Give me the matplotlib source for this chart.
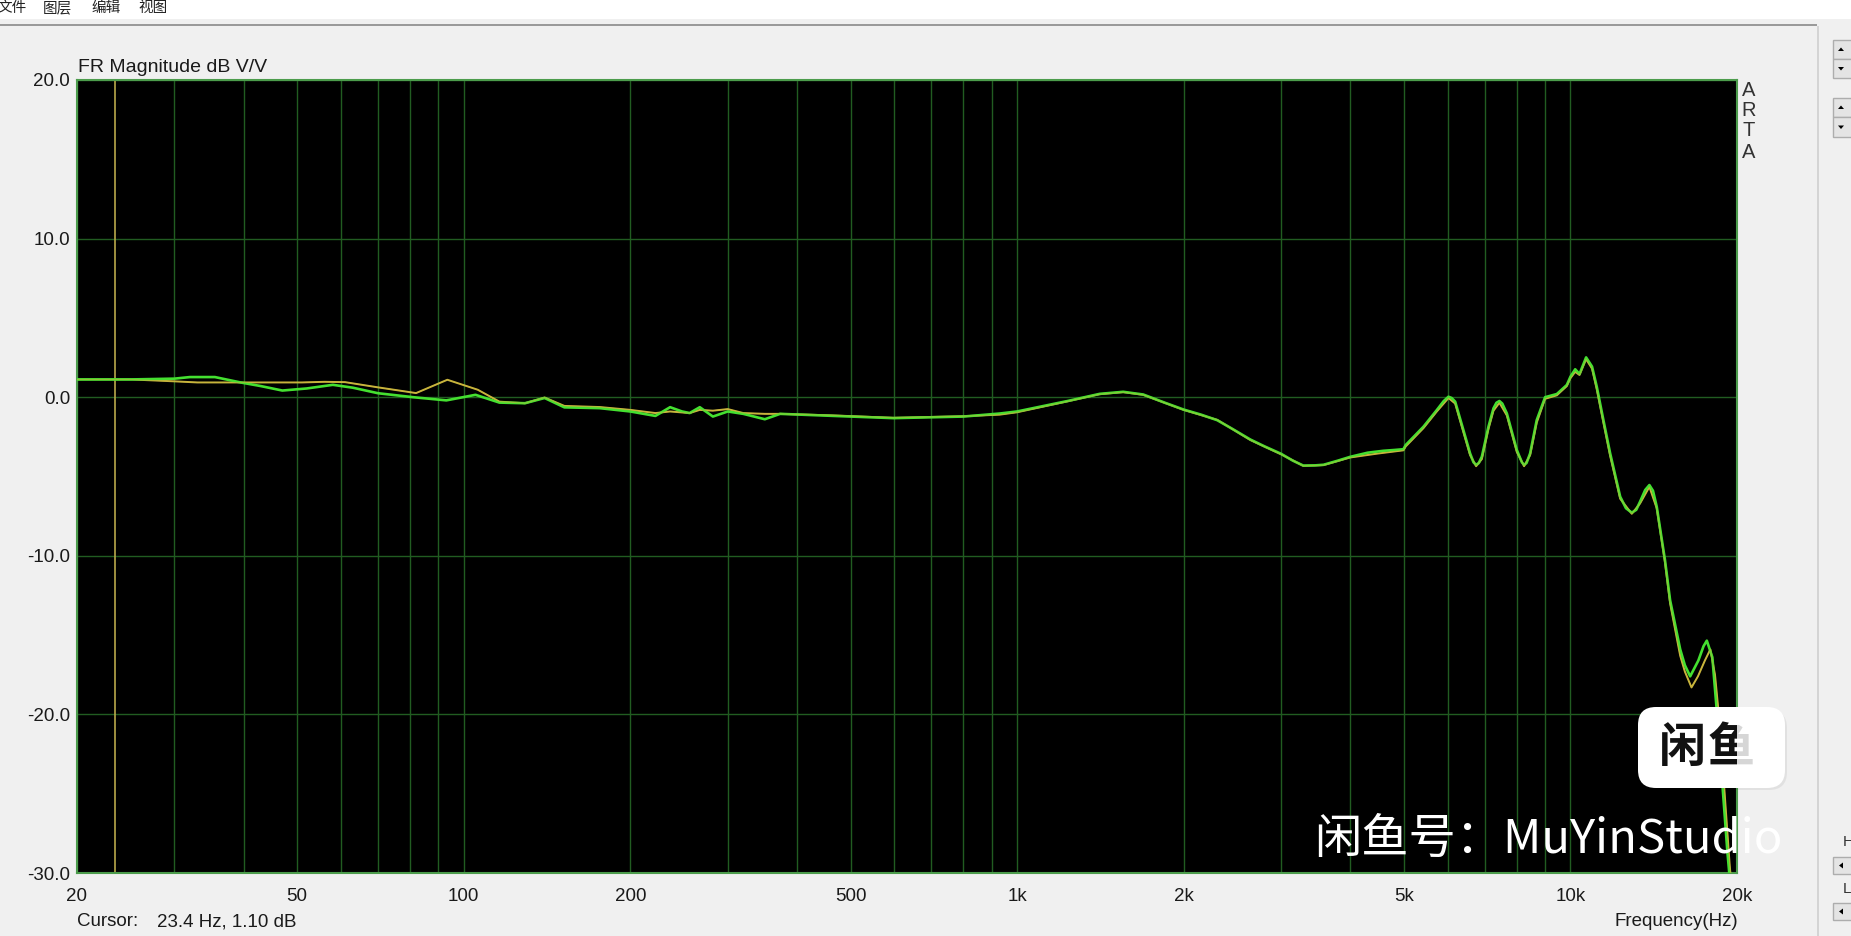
import matplotlib
matplotlib.use("Agg")
import matplotlib.pyplot as plt
from matplotlib.patches import Rectangle, Polygon, FancyBboxPatch
from matplotlib.transforms import IdentityTransform
from matplotlib.ticker import FixedLocator, FixedFormatter, FormatStrFormatter

plt.rcParams['font.family'] = ['Liberation Sans', 'Noto Sans CJK SC', 'DejaVu Sans']

# green trace (Hz, dB)
green_freq = [20, 25, 30, 32, 35.5, 39.5, 43, 47, 52, 58, 63, 70, 81, 93, 105, 116, 129, 140,
              152, 176, 200, 222, 236, 248, 256, 267, 282, 300, 320, 350, 373, 466, 598, 800,
              930, 1000, 1100, 1230, 1410, 1555, 1690, 1850, 2000, 2150, 2300, 2450, 2640,
              2800, 3000, 3150, 3290, 3450, 3580, 3800, 4000, 4300, 4590, 4800, 4990, 5040,
              5425, 5735, 5900, 6020, 6100, 6190, 6405, 6586, 6680, 6754, 6830, 6917, 7110,
              7260, 7350, 7441, 7530, 7675, 8000, 8170, 8246, 8330, 8456, 8692, 9000, 9450,
              9850, 10000, 10200, 10385, 10674, 10940, 11158, 11470, 11797, 12300, 12600,
              12910, 13150, 13360, 13650, 13890, 14100, 14320, 14820, 15140, 15790, 16100,
              16460, 17030, 17400, 17640, 18050, 18430, 18820, 19210, 19480, 19700]
green_db = [1.12, 1.12, 1.17, 1.27, 1.27, 0.93, 0.70, 0.42, 0.55, 0.78, 0.60, 0.25, 0.0, -0.2,
            0.15, -0.34, -0.38, -0.05, -0.64, -0.69, -0.9, -1.18, -0.63, -0.9, -1.0, -0.63,
            -1.22, -0.9, -1.05, -1.39, -1.05, -1.18, -1.32, -1.22, -1.03, -0.9, -0.6, -0.25,
            0.21, 0.34, 0.17, -0.35, -0.78, -1.1, -1.45, -2.0, -2.67, -3.1, -3.57, -4.0,
            -4.31, -4.3, -4.26, -4.0, -3.76, -3.5, -3.38, -3.33, -3.28, -3.01, -1.86, -0.81,
            -0.25, 0.03, -0.05, -0.28, -2.07, -3.54, -4.1, -4.27, -4.15, -3.75, -1.86, -0.70,
            -0.35, -0.24, -0.4, -1.02, -3.33, -4.1, -4.27, -4.15, -3.54, -1.44, 0.0, 0.2,
            0.77, 1.29, 1.76, 1.46, 2.51, 1.93, 0.66, -1.44, -3.54, -6.27, -7.0, -7.28,
            -7.1, -6.59, -5.85, -5.54, -5.9, -6.9, -10.27, -12.8, -15.9, -16.9, -17.6, -16.6,
            -15.7, -15.35, -16.4, -20.2, -24.4, -28.6, -31.0, -33]

# yellow trace (Hz, dB)
yellow_freq = [20, 25, 30, 33, 51, 56, 61, 70, 82, 93.4, 106, 116, 129, 140, 152, 176, 200,
               222, 236, 256, 267, 282, 300, 320, 350, 373, 466, 598, 800, 930, 1000, 1230,
               1410, 1555, 1690, 2000, 2300, 2640, 3000, 3290, 3580, 4000, 4470, 4990, 5040,
               5425, 5735, 6020, 6190, 6405, 6586, 6754, 6917, 7110, 7260, 7441, 7675, 8000,
               8246, 8456, 8692, 9000, 9450, 9850, 10000, 10200, 10385, 10674, 10940, 11158,
               11470, 11797, 12300, 12910, 13360, 13890, 14320, 14820, 15140, 15790, 16100,
               16550, 17000, 17500, 17900, 18250, 18600, 19000, 19400, 19800]
yellow_db = [1.12, 1.12, 1.0, 0.93, 0.93, 0.97, 0.95, 0.62, 0.26, 1.1, 0.47, -0.28, -0.38,
             -0.02, -0.55, -0.62, -0.8, -1.0, -0.9, -1.0, -0.8, -0.85, -0.75, -1.0, -1.05,
             -1.05, -1.15, -1.3, -1.2, -1.1, -0.95, -0.27, 0.19, 0.32, 0.15, -0.8, -1.43,
             -2.7, -3.6, -4.33, -4.28, -3.8, -3.56, -3.35, -3.1, -1.95, -0.9, -0.05, -0.4,
             -2.2, -3.65, -4.35, -3.9, -2.0, -0.85, -0.35, -1.15, -3.45, -4.35, -3.65, -1.6,
             -0.1, 0.12, 0.7, 1.2, 1.6, 1.4, 2.4, 1.8, 0.5, -1.6, -3.7, -6.4, -7.35, -6.7,
             -5.65, -7.0, -10.4, -13.0, -16.3, -17.3, -18.3, -17.6, -16.6, -15.9, -17.5,
             -20.5, -25.0, -29.5, -33]

cursor_freq = 23.4
x_ticks = [20, 50, 100, 200, 500, 1000, 2000, 5000, 10000, 20000]
x_labels = ['20', '50', '100', '200', '500', '1k', '2k', '5k', '10k', '20k']
x_grid = [30, 40, 60, 70, 80, 90, 300, 400, 600, 700, 800, 900,
          3000, 4000, 6000, 7000, 8000, 9000]
y_ticks = [-30, -20, -10, 0, 10, 20]
menu_items = ['文件', '图层', '编辑', '视图']

W, H = 1851, 936
fig = plt.figure(figsize=(W / 100, H / 100), dpi=100, facecolor='#f0f0f0')


def fx(x):
    return x / W


def fy(y):
    return 1 - y / H


def pix_patch(p):
    p.set_transform(IdentityTransform())
    fig.add_artist(p)
    return p


# window chrome
pix_patch(Rectangle((0, H - 19), W, 19, facecolor='white', edgecolor='none'))
pix_patch(Rectangle((0, H - 26), 1817, 2, facecolor='#9a9a9a', edgecolor='none'))
pix_patch(Rectangle((1817, 0), 1.5, H - 26, facecolor='#d4d4d4', edgecolor='none'))
for xm, item in zip([-3, 43, 91, 138], menu_items):
    fig.text(fx(xm), fy(8), item, fontsize=10.5, va='center', ha='left',
             family=['Noto Sans CJK SC'], color='#222222')


def button(y0, y1, kind):
    pix_patch(Rectangle((1833, H - y1), 22, y1 - y0, facecolor='#e4e4e4',
                        edgecolor='#adadad', lw=1))
    cx, cy = 1841, H - (y0 + y1) / 2
    if kind == 'up':
        pts = [(cx - 3, cy - 1.5), (cx + 3, cy - 1.5), (cx, cy + 2)]
    elif kind == 'down':
        pts = [(cx - 3, cy + 1.5), (cx + 3, cy + 1.5), (cx, cy - 2)]
    else:
        pts = [(cx + 2, cy + 3), (cx + 2, cy - 3), (cx - 2, cy)]
    pix_patch(Polygon(pts, closed=True, facecolor='black', edgecolor='none'))


button(40, 59, 'up')
button(59, 78, 'down')
button(98, 117, 'up')
button(117, 137, 'down')
button(857, 874, 'left')
button(903, 920, 'left')
fig.text(fx(1843), fy(842), 'H', fontsize=11, va='center', ha='left', color='#333333')
fig.text(fx(1843), fy(889), 'L', fontsize=11, va='center', ha='left', color='#333333')

# plot area
ax = fig.add_axes([fx(77), fy(873), 1660 / W, 793 / H])
ax.set_facecolor('black')
ax.set_xscale('log')
ax.set_xlim(20, 20000)
ax.set_ylim(-30, 20)

ax.xaxis.set_major_locator(FixedLocator(x_ticks))
ax.xaxis.set_major_formatter(FixedFormatter(x_labels))
ax.xaxis.set_minor_locator(FixedLocator(x_grid))
ax.xaxis.set_minor_formatter(FixedFormatter([''] * len(x_grid)))
ax.yaxis.set_major_locator(FixedLocator(y_ticks))
ax.yaxis.set_major_formatter(FormatStrFormatter('%.1f'))
ax.grid(True, which='both', color='#215c21', lw=1.0)
ax.tick_params(which='both', length=0, labelsize=13.5, colors='#1a1a1a')
ax.tick_params(axis='x', pad=11)
ax.tick_params(axis='y', pad=5)
for s in ax.spines.values():
    s.set_color('#4c9c4c')
    s.set_linewidth(1.5)

ax.axvline(cursor_freq, color='#b8a84a', lw=1.2, zorder=2)
ax.plot(yellow_freq, yellow_db, color='#c8b43c', lw=1.4, zorder=3)
ax.plot(green_freq, green_db, color='#44e030', lw=1.9, zorder=4)
ax.plot(yellow_freq, yellow_db, color='#c8b43c', lw=0.7, alpha=0.6, zorder=5)

# labels around the plot
fig.text(fx(78), fy(67), 'FR Magnitude dB V/V', fontsize=14, va='center', ha='left',
         color='#1a1a1a')
fig.text(fx(77), fy(922), 'Cursor:', fontsize=13.5, va='center', ha='left', color='#1a1a1a')
fig.text(fx(157), fy(922), '23.4 Hz, 1.10 dB', fontsize=13.5, va='center', ha='left',
         color='#1a1a1a')
fig.text(fx(1738), fy(922), 'Frequency(Hz)', fontsize=13.5, va='center', ha='right',
         color='#1a1a1a')
for yy, ch in zip([91, 111, 131, 152], 'ARTA'):
    fig.text(fx(1749), fy(yy), ch, fontsize=14.5, va='center', ha='center', color='#333333')

# watermark
pix_patch(FancyBboxPatch((1640, H - 790), 147, 80, boxstyle='round,pad=0,rounding_size=18',
                         facecolor='#000000', alpha=0.06, edgecolor='none'))
pix_patch(FancyBboxPatch((1638, H - 788), 147, 81, boxstyle='round,pad=0,rounding_size=18',
                         facecolor='white', edgecolor='none'))
fig.text(fx(1682), fy(748), '闲', fontsize=34, va='center', ha='center', weight='heavy',
         family=['Noto Sans CJK SC'], color='#111111')
fig.text(fx(1731), fy(748), '鱼', fontsize=34, va='center', ha='center', weight='heavy',
         family=['Noto Sans CJK SC'], color='#d6d6d6')
t = fig.text(fx(1731), fy(748), '鱼', fontsize=34, va='center', ha='center', weight='heavy',
             family=['Noto Sans CJK SC'], color='#111111')
clip = Rectangle((1700, H - 800), 37, 100, transform=IdentityTransform())
t.set_clip_path(clip)

fig.text(fx(1314), fy(840), '闲鱼号：MuYinStudio', fontsize=34, va='center', ha='left',
         family=['Noto Sans CJK SC'], color='white')

fig.savefig('out.png', dpi=100, facecolor=fig.get_facecolor())
